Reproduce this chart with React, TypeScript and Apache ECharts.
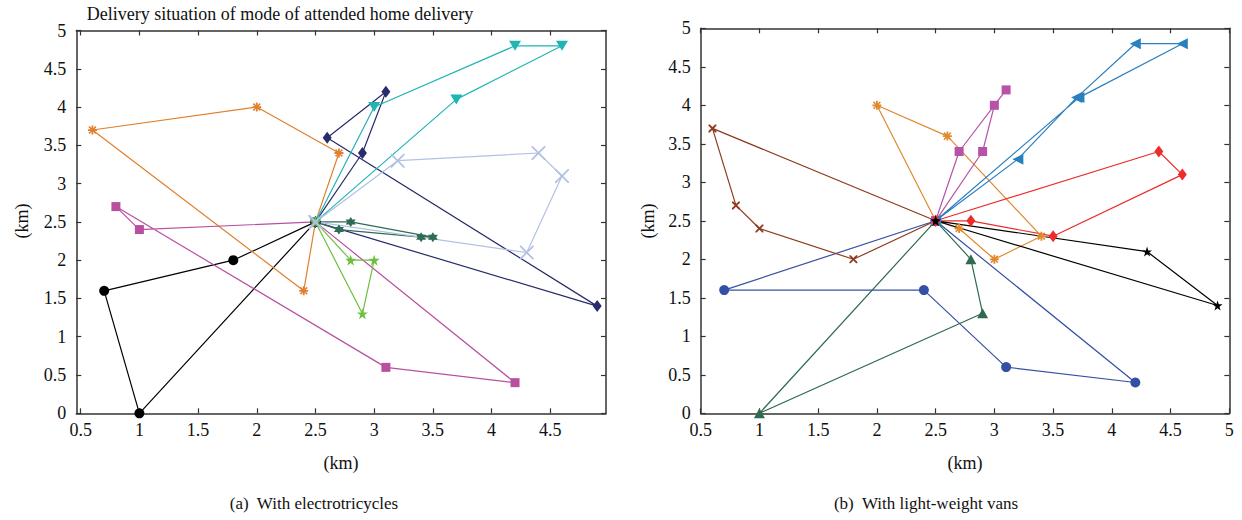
import React, { useEffect, useRef } from "react";
import * as echarts from "echarts";

// ---------- Data (km coordinates), each route starts and ends at the depot ----------
const depot: number[] = [2.5, 2.5];

// (a) With electrotricycles
const triBlack: number[][] = [depot, [1.8, 2.0], [0.7, 1.6], [1.0, 0.0], depot];
const triOrange: number[][] = [depot, [2.7, 3.4], [2.0, 4.0], [0.6, 3.7], [2.4, 1.6], depot];
const triMagenta: number[][] = [depot, [1.0, 2.4], [0.8, 2.7], [3.1, 0.6], [4.2, 0.4], depot];
const triNavy: number[][] = [depot, [2.9, 3.4], [3.1, 4.2], [2.6, 3.6], [4.9, 1.4], depot];
const triTeal: number[][] = [depot, [3.0, 4.0], [4.2, 4.8], [4.6, 4.8], [3.7, 4.1], depot];
const triDarkGreen: number[][] = [depot, [2.8, 2.5], [3.5, 2.3], [3.4, 2.3], [2.7, 2.4], depot];
const triLightGreen: number[][] = [depot, [2.8, 2.0], [3.0, 2.0], [2.9, 1.3], depot];
const triLightBlue: number[][] = [depot, [3.2, 3.3], [4.4, 3.4], [4.6, 3.1], [4.3, 2.1], depot];

// (b) With light-weight vans
const vanBlue: number[][] = [depot, [0.7, 1.6], [2.4, 1.6], [3.1, 0.6], [4.2, 0.4], depot];
const vanGreen: number[][] = [depot, [2.8, 2.0], [2.9, 1.3], [1.0, 0.0], depot];
const vanBrown: number[][] = [depot, [1.8, 2.0], [1.0, 2.4], [0.8, 2.7], [0.6, 3.7], depot];
const vanOrange: number[][] = [depot, [2.0, 4.0], [2.6, 3.6], [3.4, 2.3], [3.0, 2.0], [2.7, 2.4], depot];
const vanMagenta: number[][] = [depot, [2.7, 3.4], [3.1, 4.2], [3.0, 4.0], [2.9, 3.4], depot];
const vanSky: number[][] = [depot, [3.2, 3.3], [3.7, 4.1], [4.2, 4.8], [4.6, 4.8], [3.72, 4.1], depot];
const vanRed: number[][] = [depot, [2.8, 2.5], [3.5, 2.3], [4.6, 3.1], [4.4, 3.4], depot];
const vanBlack: number[][] = [depot, [4.3, 2.1], [4.9, 1.4], depot];

// Tick labels
const leftXTicks: number[] = [0.5, 1, 1.5, 2, 2.5, 3, 3.5, 4, 4.5];

// ---------- Styling ----------
const FONT = "Liberation Serif";
const AXIS_COLOR = "#333333";

const STAR =
  "path://M5,0 L6.12,3.45 L9.76,3.45 L6.82,5.59 L7.94,9.05 L5,6.91 L2.06,9.05 L3.18,5.59 L0.24,3.45 L3.88,3.45 Z";
const HEXA = "path://M5,0 L9.33,7.5 L0.67,7.5 Z M5,10 L0.67,2.5 L9.33,2.5 Z";
const XMARK =
  "path://M0,0 L0.9,0 L5,4.1 L9.1,0 L10,0 L10,0.9 L5.9,5 L10,9.1 L10,10 L9.1,10 L5,5.9 L0.9,10 L0,10 L0,9.1 L4.1,5 L0,0.9 Z";
const XBOLD =
  "path://M0,0 L1.6,0 L5,3.4 L8.4,0 L10,0 L10,1.6 L6.6,5 L10,8.4 L10,10 L8.4,10 L5,6.6 L1.6,10 L0,10 L0,8.4 L3.4,5 L0,1.6 Z";
const ASTER =
  "path://M4,0 L6,0 L6,3 L8.1,0.5 L9.5,1.9 L7,4 L10,4 L10,6 L7,6 L9.5,8.1 L8.1,9.5 L6,7 L6,10 L4,10 L4,7 L1.9,9.5 L0.5,8.1 L3,6 L0,6 L0,4 L3,4 L0.5,1.9 L1.9,0.5 L4,3 Z";

function routeSeries(
  name: string,
  data: number[][],
  color: string,
  symbol: string,
  size: number | number[],
  axis: number,
  rotate = 0
) {
  return {
    name,
    type: "line",
    data,
    xAxisIndex: axis,
    yAxisIndex: axis,
    symbol,
    symbolSize: size,
    symbolRotate: rotate,
    showAllSymbol: true,
    itemStyle: { color },
    lineStyle: { color, width: 1.2 },
    emphasis: { disabled: true },
    silent: true,
  };
}

function xAxisCfg(
  gridIndex: number,
  position: string,
  min: number,
  max: number,
  showLabel: boolean,
  custom: number[] | null
) {
  const base: any = {
    type: "value",
    gridIndex,
    position,
    min,
    max,
    axisLine: { show: true, onZero: false, lineStyle: { color: AXIS_COLOR, width: 1.5 } },
    axisTick: { show: true, inside: true, length: 5, lineStyle: { color: AXIS_COLOR, width: 1.2 } },
    axisLabel: {
      show: showLabel,
      color: "#111",
      fontFamily: FONT,
      fontSize: 18,
      margin: 8,
      formatter: (v: number) => String(v),
    },
    splitLine: { show: false },
  };
  if (custom) {
    base.axisTick.customValues = custom;
    base.axisLabel.customValues = custom;
  } else {
    base.interval = 0.5;
  }
  return base;
}

function yAxisCfg(gridIndex: number, position: string, showLabel: boolean) {
  return {
    type: "value",
    gridIndex,
    position,
    min: 0,
    max: 5,
    interval: 0.5,
    axisLine: { show: true, onZero: false, lineStyle: { color: AXIS_COLOR, width: 1.5 } },
    axisTick: { show: true, inside: true, length: 5, lineStyle: { color: AXIS_COLOR, width: 1.2 } },
    axisLabel: {
      show: showLabel,
      color: "#111",
      fontFamily: FONT,
      fontSize: 18,
      margin: 10,
      formatter: (v: number) => String(v),
    },
    splitLine: { show: false },
  };
}

function txt(text: string, x: number, y: number, size: number, rotation = 0) {
  return {
    type: "text",
    x,
    y,
    rotation,
    style: {
      text,
      fontFamily: FONT,
      fontSize: size,
      fill: "#111",
      align: "center",
      verticalAlign: "middle",
    },
    silent: true,
  };
}

export default function App() {
  const ref = useRef<HTMLDivElement>(null);

  useEffect(() => {
    if (!ref.current) return;
    const chart = echarts.init(ref.current, undefined, { renderer: "svg" });

    const option: any = {
      animation: false,
      backgroundColor: "#ffffff",
      textStyle: { fontFamily: FONT },
      grid: [
        { left: 76.3, top: 30.5, width: 529.7, height: 382.8 },
        { left: 700.7, top: 28.3, width: 528.6, height: 385 },
      ],
      xAxis: [
        xAxisCfg(0, "bottom", 0.4625, 4.975, true, leftXTicks),
        xAxisCfg(0, "top", 0.4625, 4.975, false, leftXTicks),
        xAxisCfg(1, "bottom", 0.5, 5, true, null),
        xAxisCfg(1, "top", 0.5, 5, false, null),
      ],
      yAxis: [
        yAxisCfg(0, "left", true),
        yAxisCfg(0, "right", false),
        yAxisCfg(1, "left", true),
        yAxisCfg(1, "right", false),
      ],
      series: [
        // (a) electrotricycles
        routeSeries("a-black", triBlack, "#000000", "circle", 10, 0),
        routeSeries("a-orange", triOrange, "#e07f2c", ASTER, 9, 0),
        routeSeries("a-magenta", triMagenta, "#b8509f", "rect", 9, 0),
        routeSeries("a-navy", triNavy, "#272c6a", "diamond", [9, 12], 0),
        routeSeries("a-teal", triTeal, "#1fb5b3", "triangle", [12, 10], 0, 180),
        routeSeries("a-darkgreen", triDarkGreen, "#2f6b55", HEXA, 10, 0),
        routeSeries("a-lightgreen", triLightGreen, "#6cc03d", STAR, 11, 0),
        routeSeries("a-lightblue", triLightBlue, "#b3c1e3", XMARK, 14, 0),
        // (b) light-weight vans
        routeSeries("b-blue", vanBlue, "#3450a4", "circle", 10, 2),
        routeSeries("b-green", vanGreen, "#2e6b4f", "triangle", [11, 10], 2),
        routeSeries("b-brown", vanBrown, "#8f3b1e", XBOLD, 8, 2),
        routeSeries("b-orange", vanOrange, "#e08a2e", ASTER, 9, 2),
        routeSeries("b-magenta", vanMagenta, "#b752a8", "rect", 9, 2),
        routeSeries("b-sky", vanSky, "#2a7fbf", "triangle", [11, 11], 2, 90),
        routeSeries("b-red", vanRed, "#ee2b2b", "diamond", [9, 12], 2),
        routeSeries("b-black", vanBlack, "#000000", STAR, 10, 2),
      ],
      graphic: [
        txt("Delivery situation of mode of attended home delivery", 280, 14, 18),
        txt("(km)", 22, 221, 18, Math.PI / 2),
        txt("(km)", 648, 221, 18, Math.PI / 2),
        txt("(km)", 341, 463, 18),
        txt("(km)", 965, 463, 18),
        txt("(a)  With electrotricycles", 314, 503, 17),
        txt("(b)  With light-weight vans", 926, 503, 17),
      ],
    };

    chart.setOption(option);
    return () => {
      chart.dispose();
    };
  }, []);

  return (
    <div
      ref={ref}
      style={{ position: "fixed", left: 0, top: 0, width: 1242, height: 520, background: "#fff" }}
    />
  );
}
